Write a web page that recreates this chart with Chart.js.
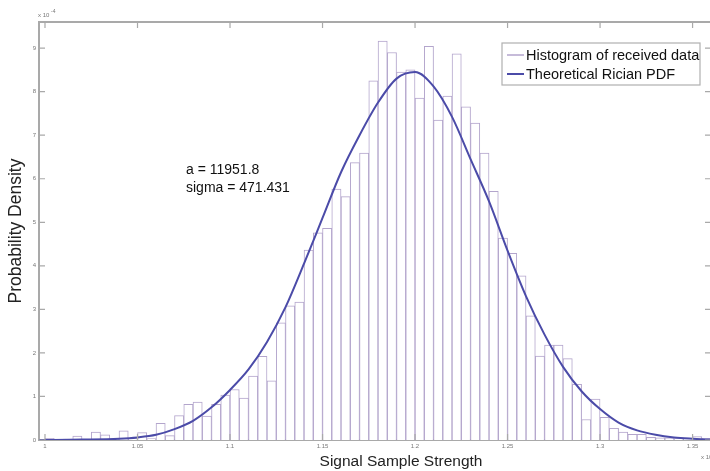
<!DOCTYPE html>
<html>
<head>
<meta charset="utf-8">
<script src="https://cdn.jsdelivr.net/npm/chart.js@4.4.1/dist/chart.umd.min.js"></script>
<style>
  html, body { margin: 0; padding: 0; background: #fff; overflow: hidden; }
  /* a bit wider than the window so the right box edge falls just off-screen */
  #wrap { width: 714px; height: 471px; position: relative; }
</style>
</head>
<body>
<div id="wrap"><canvas id="chart"></canvas></div>
<script>
// histogram bin centres (signal strength, x 10^4)
const binCenters = [
  1.0025, 1.0075, 1.0125, 1.0175, 1.0225, 1.0275, 1.0325, 1.0375, 1.0425, 1.0475,
  1.0525, 1.0575, 1.0625, 1.0675, 1.0725, 1.0775, 1.0825, 1.0875, 1.0925, 1.0975,
  1.1025, 1.1075, 1.1125, 1.1175, 1.1225, 1.1275, 1.1325, 1.1375, 1.1425, 1.1475,
  1.1525, 1.1575, 1.1625, 1.1675, 1.1725, 1.1775, 1.1825, 1.1875, 1.1925, 1.1975,
  1.2025, 1.2075, 1.2125, 1.2175, 1.2225, 1.2275, 1.2325, 1.2375, 1.2425, 1.2475,
  1.2525, 1.2575, 1.2625, 1.2675, 1.2725, 1.2775, 1.2825, 1.2875, 1.2925, 1.2975,
  1.3025, 1.3075, 1.3125, 1.3175, 1.3225, 1.3275, 1.3325, 1.3375, 1.3425, 1.3475,
  1.3525, 1.3575
];
// histogram density (x 10^-4)
const histDensity = [
  0.04, 0.00, 0.02, 0.09, 0.01, 0.18, 0.12, 0.02, 0.21, 0.03,
  0.17, 0.03, 0.38, 0.10, 0.56, 0.82, 0.87, 0.55, 0.82, 1.03,
  1.16, 0.96, 1.47, 1.92, 1.36, 2.69, 3.08, 3.17, 4.36, 4.76,
  4.86, 5.76, 5.59, 6.37, 6.59, 8.25, 9.16, 8.90, 8.45, 8.50,
  7.85, 9.04, 7.35, 7.90, 8.87, 7.65, 7.28, 6.59, 5.71, 4.64,
  4.29, 3.77, 2.85, 1.93, 2.18, 2.18, 1.87, 1.28, 0.47, 0.94,
  0.52, 0.27, 0.18, 0.13, 0.13, 0.06, 0.05, 0.05, 0.03, 0.03,
  0.08, 0.04
];
// theoretical Rician PDF
const pdfX = [
  0.997, 1.00, 1.02, 1.04, 1.05, 1.06, 1.07, 1.08, 1.09, 1.10,
  1.11, 1.12, 1.13, 1.14, 1.15, 1.16, 1.17, 1.18, 1.19, 1.20,
  1.21, 1.22, 1.23, 1.24, 1.25, 1.26, 1.27, 1.28, 1.29, 1.30,
  1.31, 1.32, 1.33, 1.34, 1.35, 1.36, 1.365
];
const pdfY = [
  0.00, 0.00, 0.01, 0.03, 0.06, 0.12, 0.25, 0.44, 0.75, 1.15,
  1.62, 2.25, 3.05, 4.05, 5.10, 6.15, 7.00, 7.75, 8.30, 8.45,
  8.12, 7.42, 6.45, 5.48, 4.35, 3.30, 2.42, 1.68, 1.12, 0.71,
  0.40, 0.22, 0.12, 0.06, 0.03, 0.01, 0.01
];
const xTickStep = 0.05;
const yTickStep = 1;
const annotationLines = ['a = 11951.8', 'sigma = 471.431'];

const FONT = '"Liberation Sans", Arial, sans-serif';
const AXIS_GRAY = '#a9a9a9';

const framePlugin = {
  id: 'frame',
  afterDraw(chart) {
    const { ctx, chartArea: a, scales: { x, y } } = chart;
    ctx.save();

    // top and right box edges
    ctx.strokeStyle = AXIS_GRAY;
    ctx.lineWidth = 2;
    ctx.beginPath();
    ctx.moveTo(a.left, a.top);
    ctx.lineTo(a.right, a.top);
    ctx.lineTo(a.right, a.bottom);
    ctx.stroke();

    // inward tick marks, matlab style
    ctx.lineWidth = 1.2;
    ctx.beginPath();
    x.ticks.forEach(t => {
      const px = x.getPixelForValue(t.value);
      ctx.moveTo(px, a.bottom); ctx.lineTo(px, a.bottom - 6);
      ctx.moveTo(px, a.top); ctx.lineTo(px, a.top + 6);
    });
    y.ticks.forEach(t => {
      const py = y.getPixelForValue(t.value);
      ctx.moveTo(a.left, py); ctx.lineTo(a.left + 6, py);
      ctx.moveTo(a.right, py); ctx.lineTo(a.right - 7, py);
    });
    ctx.stroke();

    // exponent labels
    ctx.fillStyle = '#777';
    ctx.font = '6px ' + FONT;
    ctx.textBaseline = 'alphabetic';
    ctx.textAlign = 'left';
    ctx.fillText('x 10', a.left - 1, a.top - 5);
    ctx.font = '5px ' + FONT;
    ctx.fillText('-4', a.left + 12, a.top - 9);
    ctx.font = '6px ' + FONT;
    ctx.fillText('x 10', 701, a.bottom + 19);
    ctx.font = '5px ' + FONT;
    ctx.fillText('4', 713, a.bottom + 15);

    // parameter annotation
    ctx.fillStyle = '#111';
    ctx.font = '14px ' + FONT;
    ctx.textBaseline = 'middle';
    annotationLines.forEach((s, i) => ctx.fillText(s, 186, 170 + i * 18.5));

    // x axis title
    ctx.font = '15.5px ' + FONT;
    ctx.textAlign = 'center';
    ctx.fillStyle = '#222';
    ctx.fillText('Signal Sample Strength', 401, 462);

    // legend box
    const bx = 502, by = 43, bw = 198, bh = 42;
    ctx.fillStyle = '#fff';
    ctx.fillRect(bx, by, bw, bh);
    ctx.strokeStyle = '#b0b0b0';
    ctx.lineWidth = 1.2;
    ctx.strokeRect(bx, by, bw, bh);
    ctx.font = '14.5px ' + FONT;
    ctx.textAlign = 'left';
    ctx.fillStyle = '#111';
    chart.data.datasets.forEach((ds, i) => {
      const ly = 55 + i * 19;
      ctx.strokeStyle = ds.borderColor;
      ctx.lineWidth = i === 0 ? 1.5 : 2;
      ctx.beginPath();
      ctx.moveTo(507, ly); ctx.lineTo(524, ly);
      ctx.stroke();
      ctx.fillText(ds.label, 526, ly + 1);
    });

    ctx.restore();
  }
};

const ctx = document.getElementById('chart').getContext('2d');
new Chart(ctx, {
  type: 'bar',
  data: {
    datasets: [
      {
        type: 'bar',
        label: 'Histogram of received data',
        data: binCenters.map((c, i) => ({ x: c, y: histDensity[i] })),
        backgroundColor: '#ffffff',
        borderColor: '#b3a5cc',
        borderWidth: 1,
        borderSkipped: 'bottom',
        barPercentage: 1,
        categoryPercentage: 1,
        order: 2
      },
      {
        type: 'line',
        label: 'Theoretical Rician PDF',
        data: pdfX.map((v, i) => ({ x: v, y: pdfY[i] })),
        borderColor: '#4b4ba8',
        borderWidth: 2,
        pointRadius: 0,
        fill: false,
        cubicInterpolationMode: 'monotone',
        order: 1
      }
    ]
  },
  options: {
    responsive: true,
    maintainAspectRatio: false,
    animation: false,
    layout: { padding: { top: 22, right: 2, left: 0, bottom: 0 } },
    plugins: {
      legend: { display: false },
      tooltip: { enabled: false }
    },
    scales: {
      x: {
        type: 'linear',
        offset: false,
        min: 0.99676,
        max: 1.3605,
        grid: { display: false, drawTicks: false },
        border: { display: true, color: AXIS_GRAY, width: 2 },
        ticks: {
          stepSize: xTickStep,
          includeBounds: false,
          autoSkip: false,
          maxRotation: 0,
          padding: 3,
          color: '#777',
          font: { size: 6, family: FONT },
          callback: v => String(+v.toFixed(2))
        },
        afterFit: s => { s.height = 31; }
      },
      y: {
        min: 0,
        max: 9.6,
        grid: { display: false, drawTicks: false },
        border: { display: true, color: AXIS_GRAY, width: 2 },
        ticks: {
          stepSize: yTickStep,
          includeBounds: false,
          padding: 3,
          color: '#777',
          font: { size: 6, family: FONT }
        },
        title: {
          display: true,
          text: 'Probability Density',
          color: '#222',
          font: { size: 17.5, family: FONT },
          padding: { top: 6, bottom: 0 }
        },
        afterFit: s => { s.width = 39; }
      }
    }
  },
  plugins: [framePlugin]
});
</script>
</body>
</html>
